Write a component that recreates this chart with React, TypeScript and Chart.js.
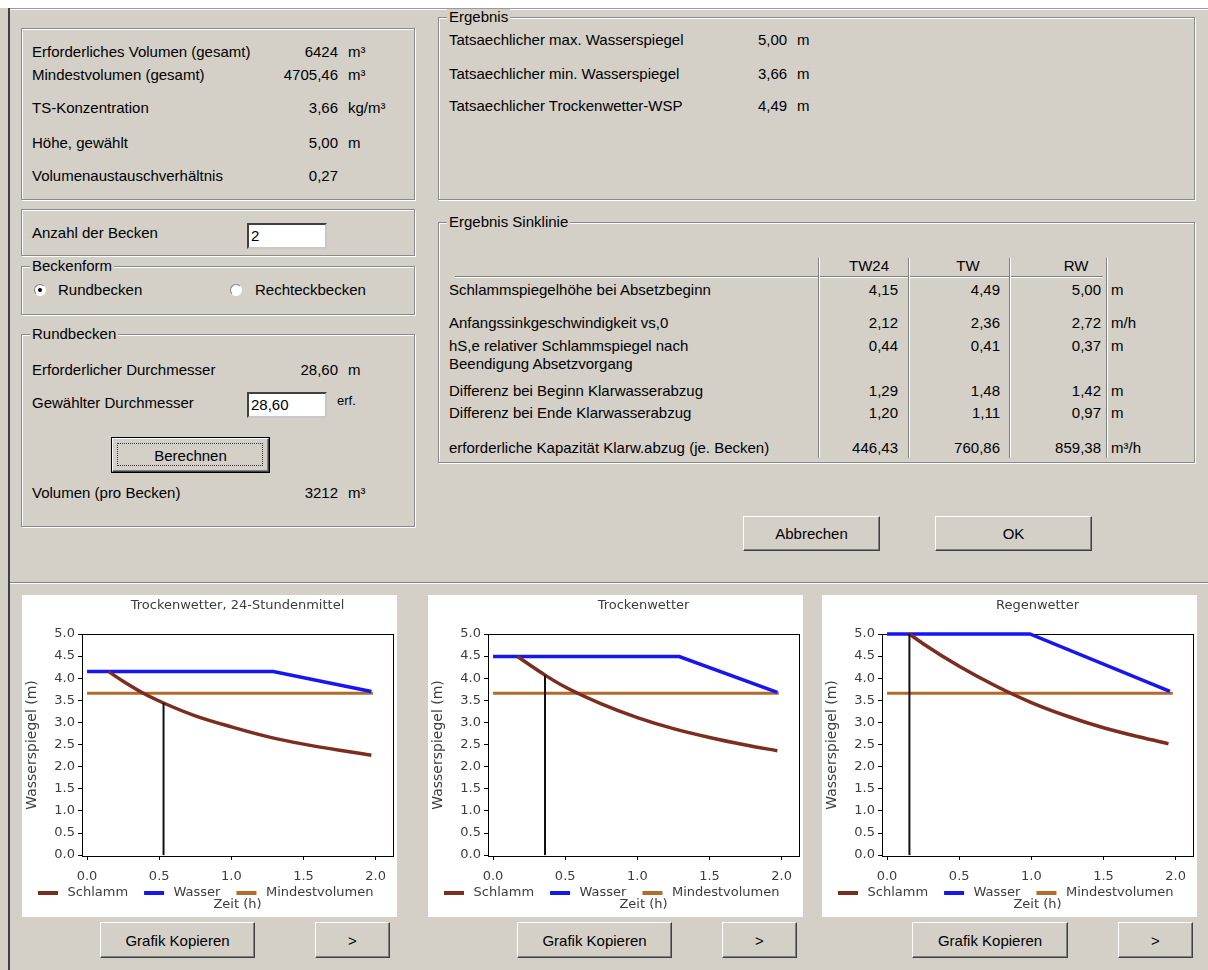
import React, { useEffect, useRef } from "react";
import { Chart, registerables } from "chart.js";

Chart.register(...registerables);

// ---------- chart data ----------
const xTickValues = [0, 0.5, 1, 1.5, 2];
const yTickValues = [0, 0.5, 1, 1.5, 2, 2.5, 3, 3.5, 4, 4.5, 5];

// Trockenwetter, 24-Stundenmittel (TW24)
const tw24SchlammTime = [0.15, 0.25, 0.39, 0.53, 0.75, 1.0, 1.25, 1.5, 1.75, 1.97];
const tw24Schlamm = [4.15, 3.93, 3.66, 3.44, 3.15, 2.9, 2.68, 2.51, 2.37, 2.26];
const tw24WasserTime = [0, 1.29, 1.97];
const tw24Wasser = [4.15, 4.15, 3.7];
const tw24MarkerTime = [0.53, 0.53];
const tw24Marker = [0, 3.44];

// Trockenwetter (TW)
const twSchlammTime = [0.17, 0.25, 0.36, 0.5, 0.75, 1.0, 1.25, 1.5, 1.75, 1.97];
const twSchlamm = [4.49, 4.31, 4.07, 3.8, 3.42, 3.11, 2.86, 2.66, 2.49, 2.36];
const twWasserTime = [0, 1.29, 1.97];
const twWasser = [4.49, 4.49, 3.68];
const twMarkerTime = [0.36, 0.36];
const twMarker = [0, 4.07];

// Regenwetter (RW)
const rwSchlammTime = [0.155, 0.25, 0.5, 0.75, 1.0, 1.25, 1.5, 1.75, 1.95];
const rwSchlamm = [5.0, 4.78, 4.27, 3.83, 3.45, 3.14, 2.88, 2.67, 2.52];
const rwWasserTime = [0, 0.99, 1.96];
const rwWasser = [5.0, 5.0, 3.7];
const rwMarkerTime = [0.155, 0.155];
const rwMarker = [0, 5.0];

// Mindestvolumen (same for all three)
const mindestTime = [0, 1.98];
const mindestLevel = [3.66, 3.66];

const chartTitles = ["Trockenwetter, 24-Stundenmittel", "Trockenwetter", "Regenwetter"];
const seriesLabels = ["Schlamm", "Wasser", "Mindestvolumen"];

// ---------- styles ----------
const BG = "#d4d0c8";
const BROWN = "#7b2d1f";
const BLUE = "#1616f2";
const ORANGE = "#b5692b";
const TXT = "#3c3c3c";
const CFONT = "'DejaVu Sans', sans-serif";
const UIFONT = "'Liberation Sans', Arial, sans-serif";

const pts = (xs: number[], ys: number[]) => xs.map((x, i) => ({ x, y: ys[i] }));

// legend swatch: transparent lead-in gap, then a short thick line
function swatch(color: string) {
  const c = document.createElement("canvas");
  c.width = 37;
  c.height = 4;
  const g = c.getContext("2d") as CanvasRenderingContext2D;
  g.fillStyle = color;
  g.fillRect(14, 0, 20, 4);
  return c;
}

type ChartProps = {
  left: number;
  title: string;
  sT: number[]; sY: number[];
  wT: number[]; wY: number[];
  mT: number[]; mY: number[];
};

function SinkChart({ left, title, sT, sY, wT, wY, mT, mY }: ChartProps) {
  const ref = useRef<HTMLCanvasElement>(null);
  useEffect(() => {
    const frameAxis = {
      ticks: { display: false },
      grid: { display: false },
      border: { display: true, color: "#000", width: 1 },
    };
    const chart = new Chart(ref.current as HTMLCanvasElement, {
      type: "line",
      data: {
        datasets: [
          {
            label: seriesLabels[0],
            data: pts(sT, sY),
            borderColor: BROWN,
            backgroundColor: BROWN,
            borderWidth: 3.5,
            pointRadius: 0,
            pointStyle: swatch(BROWN),
            cubicInterpolationMode: "monotone",
            order: 1,
            clip: false,
          },
          {
            label: seriesLabels[1],
            data: pts(wT, wY),
            borderColor: BLUE,
            backgroundColor: BLUE,
            borderWidth: 3.5,
            pointRadius: 0,
            pointStyle: swatch(BLUE),
            order: 2,
            clip: false,
          },
          {
            label: seriesLabels[2],
            data: pts(mindestTime, mindestLevel),
            borderColor: ORANGE,
            backgroundColor: ORANGE,
            borderWidth: 3,
            pointRadius: 0,
            pointStyle: swatch(ORANGE),
            order: 3,
            clip: false,
          },
          {
            label: "Absetzbeginn",
            data: pts(mT, mY),
            borderColor: "#111",
            backgroundColor: "#111",
            borderWidth: 2,
            pointRadius: 0,
            order: 0,
            clip: false,
          },
        ],
      },
      options: {
        animation: false,
        responsive: false,
        maintainAspectRatio: false,
        events: [],
        layout: { padding: { left: 0, right: 4, top: 0, bottom: 0 } },
        plugins: {
          tooltip: { enabled: false },
          title: {
            display: true,
            text: title,
            color: TXT,
            font: { family: CFONT, size: 13, weight: "normal" },
            padding: { top: 3, bottom: 20.4 },
            fullSize: false,
          },
          subtitle: {
            display: true,
            text: "Zeit (h)",
            position: "bottom",
            color: TXT,
            font: { family: CFONT, size: 13, weight: "normal" },
            padding: { top: -11.8, bottom: 4.2 },
            fullSize: false,
          },
          legend: {
            display: true,
            position: "bottom",
            align: "start",
            labels: {
              usePointStyle: true,
              pointStyleWidth: 37,
              padding: 2,
              color: TXT,
              font: { family: CFONT, size: 13 },
              filter: (item: any) => item.datasetIndex !== 3,
            },
          },
        },
        scales: {
          x: {
            type: "linear",
            position: "bottom",
            min: -0.035,
            max: 2.12,
            afterBuildTicks: (s: any) => {
              s.ticks = xTickValues.map((v) => ({ value: v }));
            },
            afterFit: (s: any) => {
              s.height = 28;
            },
            ticks: {
              autoSkip: false,
              maxRotation: 0,
              padding: 9,
              color: TXT,
              font: { family: CFONT, size: 13 },
              callback: (v: any) => Number(v).toFixed(1),
            },
            grid: { display: true, drawOnChartArea: false, drawTicks: true, tickLength: 4, color: "#000" },
            border: { display: true, color: "#000", width: 1 },
          },
          y: {
            type: "linear",
            position: "left",
            min: -0.02,
            max: 5,
            afterBuildTicks: (s: any) => {
              s.ticks = yTickValues.map((v) => ({ value: v }));
            },
            afterFit: (s: any) => {
              s.width = 60;
            },
            ticks: {
              autoSkip: false,
              padding: 3,
              color: TXT,
              font: { family: CFONT, size: 13 },
              callback: (v: any) => Number(v).toFixed(1),
            },
            grid: { display: true, drawOnChartArea: false, drawTicks: true, tickLength: 4, color: "#000" },
            border: { display: true, color: "#000", width: 1 },
            title: {
              display: true,
              text: "Wasserspiegel (m)",
              color: TXT,
              font: { family: CFONT, size: 14 },
              padding: { top: 2, bottom: 0 },
            },
          },
          x2: {
            type: "linear",
            position: "top",
            min: -0.035,
            max: 2.12,
            ...frameAxis,
            afterFit: (s: any) => {
              s.height = 0;
            },
          },
          y2: {
            type: "linear",
            position: "right",
            min: -0.02,
            max: 5,
            ...frameAxis,
            afterFit: (s: any) => {
              s.width = 0;
            },
          },
        },
      } as any,
    });
    return () => chart.destroy();
  }, []);
  return (
    <canvas
      ref={ref}
      width={375}
      height={322}
      style={{ position: "absolute", left, top: 595, width: 375, height: 322, background: "#fff" }}
    />
  );
}

// ---------- dialog widgets ----------
function T({ x, y, children, align, size }: { x: number; y: number; children: any; align?: string; size?: number }) {
  const style: any = {
    position: "absolute",
    top: y - 9,
    lineHeight: "18px",
    whiteSpace: "pre",
    fontSize: size || 15,
  };
  if (align === "right") {
    style.right = 1208 - x;
    style.textAlign = "right";
  } else if (align === "center") {
    style.left = x - 100;
    style.width = 200;
    style.textAlign = "center";
  } else {
    style.left = x;
  }
  return <div style={style}>{children}</div>;
}

function GroupBox({ x, y, w, h, title }: { x: number; y: number; w: number; h: number; title?: string }) {
  return (
    <div
      style={{
        position: "absolute",
        left: x,
        top: y,
        width: w,
        height: h,
        boxSizing: "border-box",
        border: "1px solid #8a8a8a",
        boxShadow: "inset 1px 1px 0 #fff, 1px 1px 0 #fff",
      }}
    >
      {title && (
        <span style={{ position: "absolute", left: 8, top: -9, background: BG, padding: "0 2px", lineHeight: "16px" }}>
          {title}
        </span>
      )}
    </div>
  );
}

function Btn({ x, y, w, h, label, def }: { x: number; y: number; w: number; h: number; label: string; def?: boolean }) {
  return (
    <div
      style={{
        position: "absolute",
        left: x,
        top: y,
        width: w,
        height: h,
        boxSizing: "border-box",
        border: def ? "1px solid #000" : "none",
      }}
    >
      <div
        style={{
          position: "absolute",
          inset: 0,
          boxSizing: "border-box",
          background: BG,
          borderStyle: "solid",
          borderWidth: 1,
          borderColor: "#fff #404040 #404040 #fff",
          boxShadow: "inset -1px -1px 0 #808080",
          display: "flex",
          alignItems: "center",
          justifyContent: "center",
        }}
      >
        {def && (
          <div style={{ position: "absolute", left: 4, top: 4, right: 5, bottom: 5, border: "1px dotted #333" }} />
        )}
        <span style={{ position: "relative" }}>{label}</span>
      </div>
    </div>
  );
}

function Input({ x, y, w, h, value }: { x: number; y: number; w: number; h: number; value: string }) {
  return (
    <div
      style={{
        position: "absolute",
        left: x,
        top: y,
        width: w,
        height: h,
        boxSizing: "border-box",
        background: "#fff",
        borderStyle: "solid",
        borderWidth: 2,
        borderColor: "#404040 #c8c8c8 #c8c8c8 #404040",
        lineHeight: `${h - 4}px`,
        paddingLeft: 2,
      }}
    >
      {value}
    </div>
  );
}

function Radio({ cx, cy, checked }: { cx: number; cy: number; checked?: boolean }) {
  return (
    <div
      style={{
        position: "absolute",
        left: cx - 6,
        top: cy - 6,
        width: 12,
        height: 12,
        boxSizing: "border-box",
        borderRadius: "50%",
        background: "#fff",
        borderStyle: "solid",
        borderWidth: 1,
        borderColor: "#808080 #fff #fff #808080",
      }}
    >
      {checked && (
        <div style={{ position: "absolute", left: 3, top: 3, width: 4, height: 4, borderRadius: "50%", background: "#000" }} />
      )}
    </div>
  );
}

const tableRows: [string, string, string, string, string, number][] = [
  ["Schlammspiegelhöhe bei Absetzbeginn", "4,15", "4,49", "5,00", "m", 290],
  ["Anfangssinkgeschwindigkeit vs,0", "2,12", "2,36", "2,72", "m/h", 323],
  ["hS,e relativer Schlammspiegel nach", "0,44", "0,41", "0,37", "m", 346],
  ["Differenz bei Beginn Klarwasserabzug", "1,29", "1,48", "1,42", "m", 391],
  ["Differenz bei Ende Klarwasserabzug", "1,20", "1,11", "0,97", "m", 413],
  ["erforderliche Kapazität Klarw.abzug (je. Becken)", "446,43", "760,86", "859,38", "m³/h", 448],
];

export default function App() {
  return (
    <div
      style={{
        position: "absolute",
        left: 0,
        top: 0,
        width: 1208,
        height: 970,
        overflow: "hidden",
        background: BG,
        fontFamily: UIFONT,
        fontSize: 15,
        color: "#000",
      }}
    >
      {/* window chrome */}
      <div style={{ position: "absolute", left: 0, top: 0, width: 1208, height: 8, background: "#fff" }} />
      <div style={{ position: "absolute", left: 8, top: 8, width: 1200, height: 1, background: "#9a9a9a" }} />
      <div style={{ position: "absolute", left: 8, top: 9, width: 1200, height: 1, background: "#fff" }} />
      <div style={{ position: "absolute", left: 8, top: 8, width: 2, height: 962, background: "#404040" }} />

      {/* top-left values */}
      <GroupBox x={21} y={28} w={394} h={172} />
      <T x={32} y={52}>Erforderliches Volumen (gesamt)</T>
      <T x={338} y={52} align="right">6424</T>
      <T x={348} y={52}>m³</T>
      <T x={32} y={75}>Mindestvolumen (gesamt)</T>
      <T x={338} y={75} align="right">4705,46</T>
      <T x={348} y={75}>m³</T>
      <T x={32} y={108}>TS-Konzentration</T>
      <T x={338} y={108} align="right">3,66</T>
      <T x={348} y={108}>kg/m³</T>
      <T x={32} y={143}>Höhe, gewählt</T>
      <T x={338} y={143} align="right">5,00</T>
      <T x={348} y={143}>m</T>
      <T x={32} y={176}>Volumenaustauschverhältnis</T>
      <T x={338} y={176} align="right">0,27</T>

      <GroupBox x={21} y={209} w={394} h={47} />
      <T x={32} y={233}>Anzahl der Becken</T>
      <Input x={247} y={223} w={80} h={26} value="2" />

      <GroupBox x={21} y={266} w={394} h={49} title="Beckenform" />
      <Radio cx={40} cy={290} checked />
      <T x={58} y={290}>Rundbecken</T>
      <Radio cx={236} cy={290} />
      <T x={255} y={290}>Rechteckbecken</T>

      <GroupBox x={21} y={334} w={394} h={193} title="Rundbecken" />
      <T x={32} y={370}>Erforderlicher Durchmesser</T>
      <T x={338} y={370} align="right">28,60</T>
      <T x={348} y={370}>m</T>
      <T x={32} y={403}>Gewählter Durchmesser</T>
      <Input x={247} y={392} w={80} h={26} value="28,60" />
      <T x={337} y={401} size={13}>erf.</T>
      <Btn x={111} y={437} w={159} h={36} label="Berechnen" def />
      <T x={32} y={493}>Volumen (pro Becken)</T>
      <T x={338} y={493} align="right">3212</T>
      <T x={348} y={493}>m³</T>

      {/* right: Ergebnis */}
      <GroupBox x={438} y={17} w={757} h={183} title="Ergebnis" />
      <T x={449} y={40}>Tatsaechlicher max. Wasserspiegel</T>
      <T x={758} y={40}>5,00</T>
      <T x={797} y={40}>m</T>
      <T x={449} y={74}>Tatsaechlicher min. Wasserspiegel</T>
      <T x={758} y={74}>3,66</T>
      <T x={797} y={74}>m</T>
      <T x={449} y={106}>Tatsaechlicher Trockenwetter-WSP</T>
      <T x={758} y={106}>4,49</T>
      <T x={797} y={106}>m</T>

      {/* right: Ergebnis Sinklinie */}
      <GroupBox x={438} y={222} w={757} h={241} title="Ergebnis Sinklinie" />
      <T x={869} y={266} align="center">TW24</T>
      <T x={968} y={266} align="center">TW</T>
      <T x={1076} y={266} align="center">RW</T>
      <div style={{ position: "absolute", left: 455, top: 276, width: 648, height: 1, background: "#808080" }} />
      <div style={{ position: "absolute", left: 455, top: 277, width: 648, height: 1, background: "#fff" }} />
      {[818, 908, 1009, 1106].map((lx) => (
        <React.Fragment key={lx}>
          <div style={{ position: "absolute", left: lx, top: 258, width: 1, height: 200, background: "#808080" }} />
          <div style={{ position: "absolute", left: lx + 1, top: 258, width: 1, height: 200, background: "#fff" }} />
        </React.Fragment>
      ))}
      {tableRows.map((r) => (
        <React.Fragment key={r[0]}>
          <T x={449} y={r[5]}>{r[0]}</T>
          <T x={898} y={r[5]} align="right">{r[1]}</T>
          <T x={1000} y={r[5]} align="right">{r[2]}</T>
          <T x={1101} y={r[5]} align="right">{r[3]}</T>
          <T x={1111} y={r[5]}>{r[4]}</T>
        </React.Fragment>
      ))}
      <T x={449} y={364}>Beendigung Absetzvorgang</T>

      <Btn x={743} y={516} w={137} h={35} label="Abbrechen" />
      <Btn x={935} y={516} w={157} h={35} label="OK" />

      {/* separator */}
      <div style={{ position: "absolute", left: 10, top: 582, width: 1198, height: 1, background: "#808080" }} />
      <div style={{ position: "absolute", left: 10, top: 583, width: 1198, height: 1, background: "#fff" }} />

      {/* charts */}
      <SinkChart left={22} title={chartTitles[0]} sT={tw24SchlammTime} sY={tw24Schlamm} wT={tw24WasserTime} wY={tw24Wasser} mT={tw24MarkerTime} mY={tw24Marker} />
      <SinkChart left={428} title={chartTitles[1]} sT={twSchlammTime} sY={twSchlamm} wT={twWasserTime} wY={twWasser} mT={twMarkerTime} mY={twMarker} />
      <SinkChart left={822} title={chartTitles[2]} sT={rwSchlammTime} sY={rwSchlamm} wT={rwWasserTime} wY={rwWasser} mT={rwMarkerTime} mY={rwMarker} />

      <Btn x={100} y={922} w={155} h={36} label="Grafik Kopieren" />
      <Btn x={315} y={922} w={75} h={36} label=">" />
      <Btn x={517} y={922} w={155} h={36} label="Grafik Kopieren" />
      <Btn x={722} y={922} w={75} h={36} label=">" />
      <Btn x={912} y={922} w={156} h={36} label="Grafik Kopieren" />
      <Btn x={1118} y={922} w={75} h={36} label=">" />
    </div>
  );
}
